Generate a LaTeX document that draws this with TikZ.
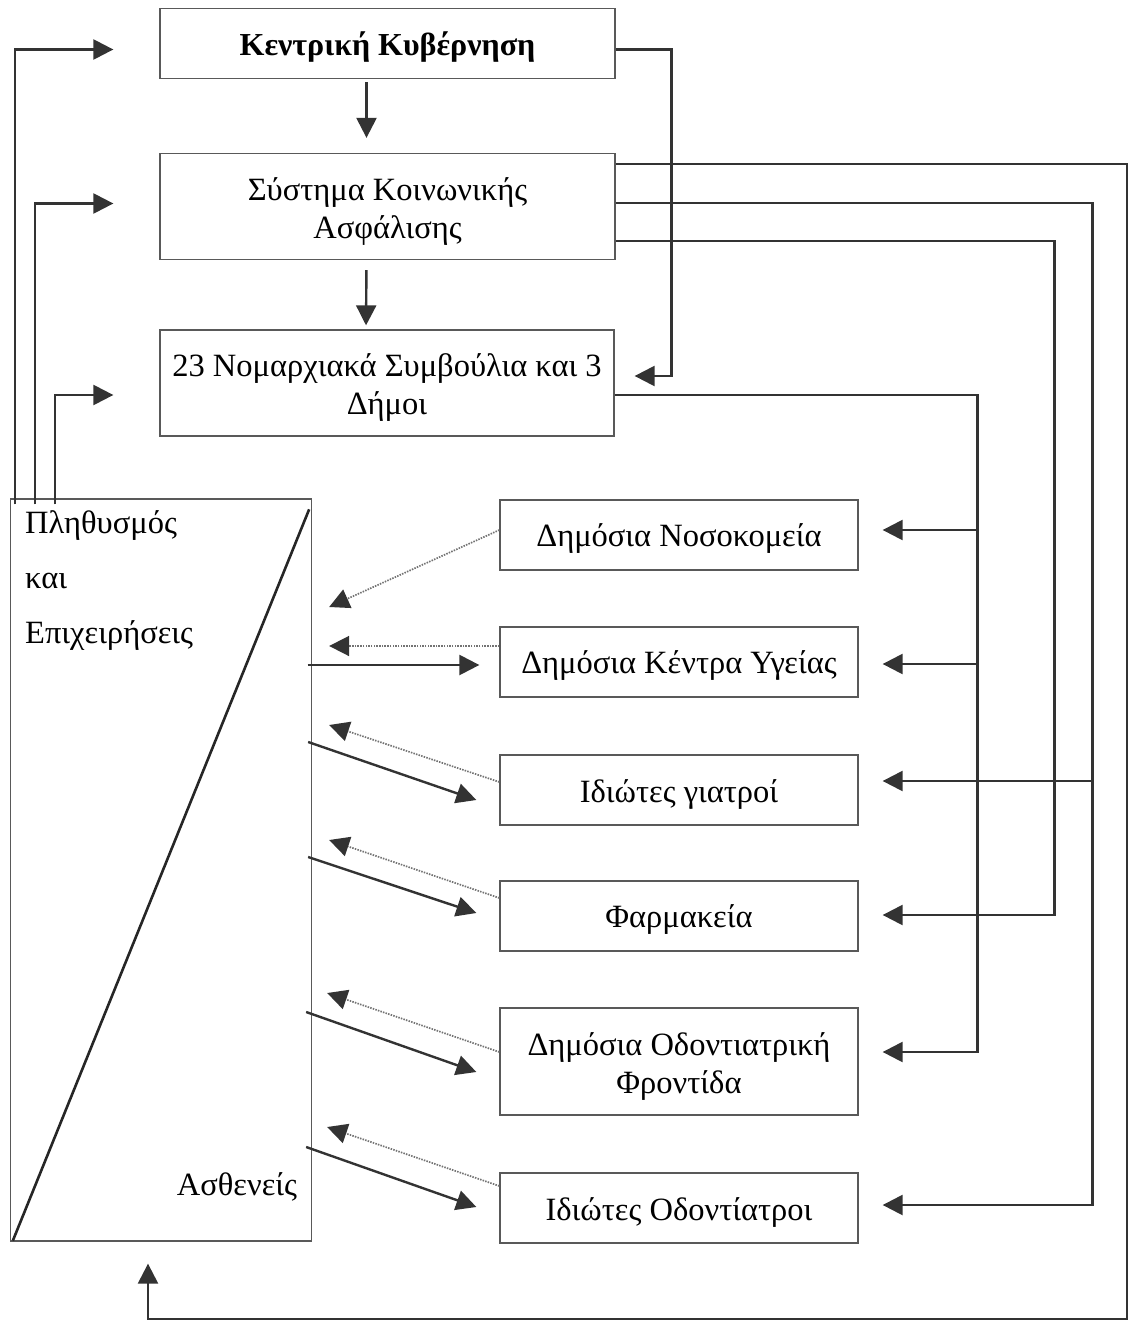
\documentclass[tikz,border=0pt]{standalone}
\usepackage{fontspec}
\setmainfont{Liberation Serif}
\usetikzlibrary{arrows.meta,calc}
\begin{document}
\begin{tikzpicture}[x=1pt,y=-1pt,
  box/.style={draw=black!65, line width=1.3pt, inner sep=0pt},
  lbl/.style={inner sep=0pt, align=center, font=\fontsize{32.5}{38}\selectfont},
  conn/.style={draw=black!80, line width=2.4pt, -{Triangle[length=20pt,width=20pt,fill=black!80]}},
  diag/.style={draw=black!85, line width=2.6pt},
  dotarr/.style={draw=black!55, line width=1.7pt, dash pattern=on 1.5pt off 1.2pt, -{Triangle[length=20pt,width=20pt,fill=black!80,color=black!80]}}]
\useasboundingbox (0,0) rectangle (1127,1321);

% top column
\node[box, minimum width=455pt, minimum height=70pt] (kk) at (387.5,43.5) {};
\node[lbl, font=\bfseries\fontsize{32}{38}\selectfont] (kkt) at ($(kk.center)+(0,4)$) {Κεντρική Κυβέρνηση};
\node[box, minimum width=455pt, minimum height=106pt] (ska) at (387.5,206.5) {};
\node[lbl] (skat) at ($(ska.center)+(0,5)$) {Σύστημα Κοινωνικής\\Ασφάλισης};
\node[box, minimum width=454pt, minimum height=106pt] (nm) at (387,383) {};
\node[lbl] (nmt) at ($(nm.center)+(0,5)$) {23 Νομαρχιακά Συμβούλια και 3\\Δήμοι};

% population box
\node[box, minimum width=301pt, minimum height=742pt] (pop) at (161,870) {};
\node[lbl, anchor=west, align=left, font=\fontsize{32.5}{55}\selectfont] (popt) at (25,580) {Πληθυσμός\\και\\Επιχειρήσεις};
\node[lbl] (asth) at (237,1187) {Ασθενείς};
\draw[diag] ($(pop.south west)+(3,-1)$) -- ($(pop.north east)+(-3,11)$);

% providers
\node[box, minimum width=358pt, minimum height=70pt] (nos) at (679,535) {};
\node[lbl] (nost) at ($(nos.center)+(0,4)$) {Δημόσια Νοσοκομεία};
\node[box, minimum width=358pt, minimum height=70pt] (ken) at (679,662) {};
\node[lbl] (kent) at ($(ken.center)+(0,4)$) {Δημόσια Κέντρα Υγείας};
\node[box, minimum width=358pt, minimum height=70pt] (gia) at (679,790) {};
\node[lbl] (giat) at ($(gia.center)+(0,4)$) {Ιδιώτες γιατροί};
\node[box, minimum width=358pt, minimum height=70pt] (far) at (679,916) {};
\node[lbl] (fart) at ($(far.center)+(0,4)$) {Φαρμακεία};
\node[box, minimum width=358pt, minimum height=107pt] (odo) at (679,1061.5) {};
\node[lbl] (odot) at ($(odo.center)+(0,5)$) {Δημόσια Οδοντιατρική\\Φροντίδα};
\node[box, minimum width=358pt, minimum height=70pt] (ido) at (679,1208) {};
\node[lbl] (idot) at ($(ido.center)+(0,4)$) {Ιδιώτες Οδοντίατροι};

% vertical flow
\draw[conn, shorten <=3pt, shorten >=15pt] ($(kk.south)+(-21,0)$) -- ($(ska.north)+(-21,0)$);
\draw[conn, shorten <=10pt, shorten >=4pt] ($(ska.south)+(-21,0)$) -- ($(nm.north)+(-21,0)$);

% feedback from population
\draw[conn, shorten >=46pt] ($(pop.north west)+(5,6)$) |- ($(kk.west)+(0,6)$);
\draw[conn, shorten >=46pt] ($(pop.north west)+(25,6)$) |- ($(ska.west)+(0,-3)$);
\draw[conn, shorten >=46pt] ($(pop.north west)+(45,6)$) |- ($(nm.west)+(0,12)$);

% central government to prefectures
\draw[conn, shorten >=20pt] ($(kk.east)+(0,6)$) -| ($(nm.east)+(57,-7)$) -- ($(nm.east)+(0,-7)$);

% social insurance
\coordinate (rt) at (1127,164);
\coordinate (rb) at (1127,1319);
\draw[conn, shorten >=22pt] ($(ska.east)+(0,-42.5)$) -- (rt) -- (rb) -| ($(pop.south)+(-13,0)$);
\draw[conn, shorten >=24pt] ($(ska.east)+(0,-3.5)$) -| ($(ido.east)+(234,-3)$) -- ($(ido.east)+(0,-3)$);
\draw[conn, shorten >=24pt] ($(gia.east)+(234,-9)$) -- ($(gia.east)+(0,-9)$);
\draw[conn, shorten >=24pt] ($(ska.east)+(0,34.5)$) -| ($(far.east)+(196,-1)$) -- ($(far.east)+(0,-1)$);

% prefectures
\draw[conn, shorten >=24pt] ($(nm.east)+(0,12)$) -| ($(odo.east)+(119,-9.5)$) -- ($(odo.east)+(0,-9.5)$);
\draw[conn, shorten >=24pt] ($(nos.east)+(119,-5)$) -- ($(nos.east)+(0,-5)$);
\draw[conn, shorten >=24pt] ($(ken.east)+(119,2)$) -- ($(ken.east)+(0,2)$);

% patients <-> providers
\draw[dotarr] ($(nos.west)+(0,-5)$) -- ($(nos.west -| pop.east)+(17,72)$);

\draw[dotarr, shorten >=17pt] ($(ken.west)+(0,-16)$) -- ($(ken.west -| pop.east)+(0,-16)$);
\draw[conn, shorten >=20pt] ($(ken.west -| pop.east)+(-4.5,3)$) -- ($(ken.west)+(0,3)$);

\draw[dotarr] ($(gia.west)+(0,-8)$) -- ($(gia.west -| pop.east)+(17,-65)$);
\draw[conn] ($(gia.west -| pop.east)+(-4,-48)$) -- ($(gia.west)+(-23,10)$);

\draw[dotarr] ($(far.west)+(0,-18)$) -- ($(far.west -| pop.east)+(17,-76)$);
\draw[conn] ($(far.west -| pop.east)+(-4,-59)$) -- ($(far.west)+(-23,-3)$);

\draw[dotarr] ($(odo.west)+(0,-9.5)$) -- ($(odo.west -| pop.east)+(15,-68.5)$);
\draw[conn] ($(odo.west -| pop.east)+(-6,-49.5)$) -- ($(odo.west)+(-23,10.5)$);

\draw[dotarr] ($(ido.west)+(0,-22)$) -- ($(ido.west -| pop.east)+(15,-81)$);
\draw[conn] ($(ido.west -| pop.east)+(-6,-61)$) -- ($(ido.west)+(-23,-1)$);
\end{tikzpicture}
\end{document}
